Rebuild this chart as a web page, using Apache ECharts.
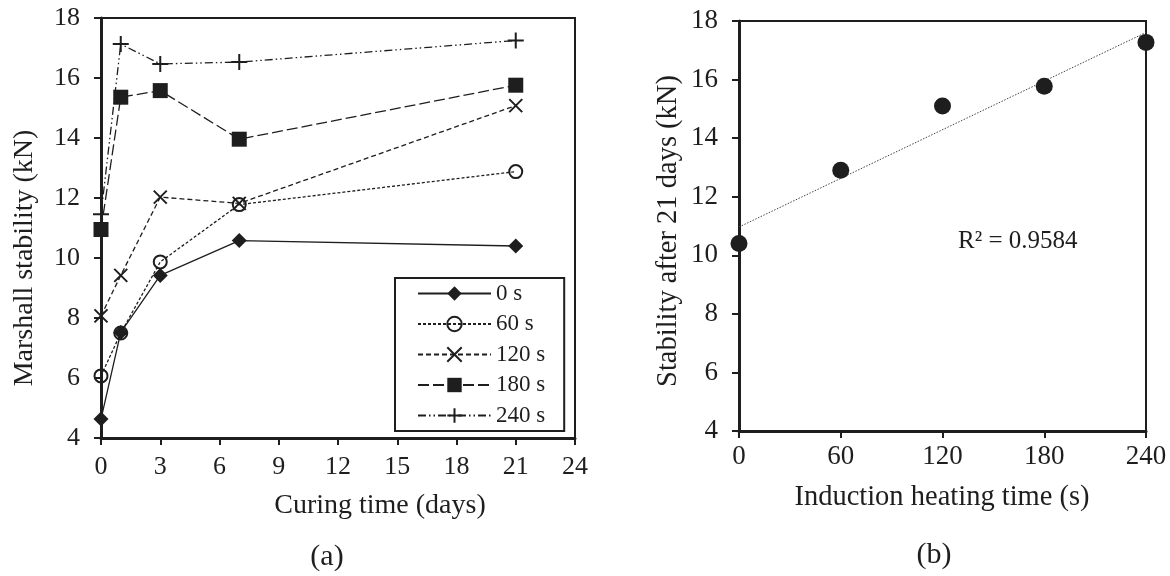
<!DOCTYPE html>
<html>
<head>
<meta charset="utf-8">
<script src="https://cdn.jsdelivr.net/npm/echarts@6/dist/echarts.min.js"></script>
<style>
html,body{margin:0;padding:0;background:#fff;}
#chart{width:1170px;height:576px;}
</style>
</head>
<body>
<div id="chart"></div>
<script>
// ---- data ----
const curingDays = [0, 1, 3, 7, 21];
const seriesNames = ['0 s', '60 s', '120 s', '180 s', '240 s'];
const stab0 = [4.63, 7.52, 9.42, 10.58, 10.4];
const stab60 = [6.07, 7.5, 9.87, 11.78, 12.88];
const stab120 = [8.07, 9.42, 12.03, 11.82, 15.08];
const stab180 = [10.95, 15.36, 15.58, 13.96, 15.76];
const stab240 = [11.46, 17.13, 16.47, 16.53, 17.25];
const heatingTimes = [0, 60, 120, 180, 240];
const stab21 = [10.4, 12.9, 15.1, 15.77, 17.27];
const xTicksA = [0, 3, 6, 9, 12, 15, 18, 21, 24];
const xTicksB = [0, 60, 120, 180, 240];
const yTicks = [4, 6, 8, 10, 12, 14, 16, 18];
const r2Label = 'R² = 0.9584';

// ---- helpers ----
const INK = '#1e1e1e';
const FONT = '"Liberation Serif", "Times New Roman", serif';
const pairs = (xs, ys) => xs.map((x, i) => [x, ys[i]]);

// least-squares trendline of the 21-day values
const n = heatingTimes.length;
const mx = heatingTimes.reduce((a, b) => a + b, 0) / n;
const my = stab21.reduce((a, b) => a + b, 0) / n;
let sxy = 0, sxx = 0;
for (let i = 0; i < n; i++) { sxy += (heatingTimes[i] - mx) * (stab21[i] - my); sxx += (heatingTimes[i] - mx) ** 2; }
const slope = sxy / sxx, icpt = my - slope * mx;
const tX0 = xTicksB[0], tX1 = xTicksB[xTicksB.length - 1];
const trend = [[tX0, icpt + slope * tX0], [tX1, icpt + slope * tX1]];

const chart = echarts.init(document.getElementById('chart'), null, {renderer: 'canvas'});

function valueAxis(ticks, grid, labelSize, margin) {
  return {
    type: 'value', gridIndex: grid,
    min: ticks[0], max: ticks[ticks.length - 1], interval: ticks[1] - ticks[0],
    axisLine: {show: true, onZero: false, lineStyle: {color: INK, width: 3}},
    axisTick: {show: true, inside: false, length: 7, lineStyle: {color: INK, width: 2}},
    axisLabel: {color: INK, fontFamily: FONT, fontSize: labelSize, margin: margin},
    splitLine: {show: false}
  };
}

const symPlus = 'path://M5,0L5,10M0,5L10,5';
const symCross = 'path://M0,0L10,10M10,0L0,10';

function lineSeries(name, ys, dash, symbol, size, itemStyle) {
  return {
    name: name, type: 'line', xAxisIndex: 0, yAxisIndex: 0,
    data: pairs(curingDays, ys),
    symbol: symbol, symbolSize: size, showAllSymbol: true, clip: false,
    lineStyle: {color: INK, width: 1.3, type: dash},
    itemStyle: itemStyle,
    emphasis: {disabled: true}, animation: false, z: 3
  };
}

const option = {
  animation: false,
  backgroundColor: '#fff',
  grid: [
    {left: 101, top: 18, width: 474, height: 420, show: true, borderColor: INK, borderWidth: 2, backgroundColor: 'transparent'},
    {left: 739, top: 21, width: 407, height: 410, show: true, borderColor: INK, borderWidth: 2, backgroundColor: 'transparent'}
  ],
  xAxis: [valueAxis(xTicksA, 0, 26, 16), valueAxis(xTicksB, 1, 27, 12)],
  yAxis: [valueAxis(yTicks, 0, 26, 21), valueAxis(yTicks, 1, 27, 21)],
  legend: {
    show: true, orient: 'vertical', left: 395, top: 278,
    data: seriesNames,
    itemWidth: 73, itemHeight: 18, itemGap: 7.5,
    padding: [4, 19, 4, 22],
    borderColor: INK, borderWidth: 2, backgroundColor: '#fff',
    textStyle: {color: INK, fontFamily: FONT, fontSize: 23},
    selectedMode: false, z: 10
  },
  series: [
    lineSeries(seriesNames[0], stab0, 'solid', 'diamond', 15, {color: INK}),
    lineSeries(seriesNames[1], stab60, [3, 2], 'circle', 13, {color: 'none', borderColor: INK, borderWidth: 2}),
    lineSeries(seriesNames[2], stab120, [5, 3], symCross, 13, {color: 'none', borderColor: INK, borderWidth: 2}),
    lineSeries(seriesNames[3], stab180, [11, 4], 'rect', 15, {color: INK}),
    lineSeries(seriesNames[4], stab240, [8, 3, 1.5, 3, 1.5, 3], symPlus, 16, {color: 'none', borderColor: INK, borderWidth: 2}),
    {
      name: 'trend', type: 'line', xAxisIndex: 1, yAxisIndex: 1, data: trend,
      showSymbol: false, symbol: 'none', lineStyle: {color: '#444', width: 1, type: [1.5, 1.5]},
      emphasis: {disabled: true}, z: 2, clip: false
    },
    {
      name: 'stab21', type: 'scatter', xAxisIndex: 1, yAxisIndex: 1,
      data: pairs(heatingTimes, stab21), symbol: 'circle', symbolSize: 17,
      itemStyle: {color: INK, opacity: 1}, emphasis: {disabled: true}, z: 3, clip: false
    }
  ],
  graphic: [
    {type: 'text', x: 25, y: 258, rotation: Math.PI / 2,
      style: {text: 'Marshall stability (kN)', fontFamily: FONT, fontSize: 28, fill: INK, textAlign: 'center', textVerticalAlign: 'middle'}},
    {type: 'text', x: 380, y: 506,
      style: {text: 'Curing time (days)', fontFamily: FONT, fontSize: 28, fill: INK, textAlign: 'center', textVerticalAlign: 'middle'}},
    {type: 'text', x: 327, y: 557,
      style: {text: '(a)', fontFamily: FONT, fontSize: 30, fill: INK, textAlign: 'center', textVerticalAlign: 'middle'}},
    {type: 'text', x: 669, y: 231, rotation: Math.PI / 2,
      style: {text: 'Stability after 21 days (kN)', fontFamily: FONT, fontSize: 28.5, fill: INK, textAlign: 'center', textVerticalAlign: 'middle'}},
    {type: 'text', x: 942, y: 498,
      style: {text: 'Induction heating time (s)', fontFamily: FONT, fontSize: 28.5, fill: INK, textAlign: 'center', textVerticalAlign: 'middle'}},
    {type: 'text', x: 934, y: 555,
      style: {text: '(b)', fontFamily: FONT, fontSize: 30, fill: INK, textAlign: 'center', textVerticalAlign: 'middle'}},
    {type: 'text', x: 958, y: 241,
      style: {text: r2Label, fontFamily: FONT, fontSize: 25, fill: INK, textAlign: 'left', textVerticalAlign: 'middle'}}
  ]
};
chart.setOption(option);
</script>
</body>
</html>
